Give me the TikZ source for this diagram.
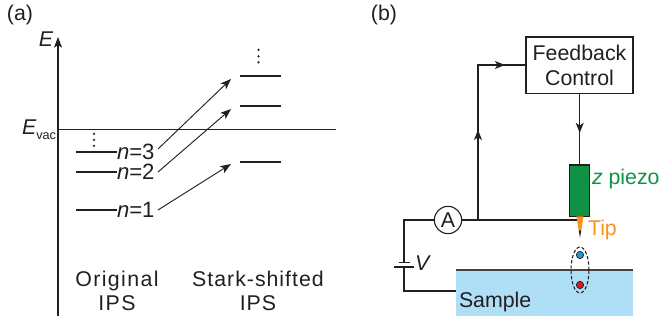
\documentclass[tikz,border=0pt]{standalone}
\usepackage{fontspec}
\setmainfont{Liberation Sans}
\newfontfamily\spacedfont[LetterSpace=6.5]{Liberation Sans}
\newfontfamily\spacedfontb[LetterSpace=4.6]{Liberation Sans}
\usetikzlibrary{arrows.meta,decorations.markings,shapes.geometric}
\definecolor{ink}{HTML}{231F20}
\definecolor{pz}{HTML}{0E9345}
\definecolor{tp}{HTML}{F7941D}
\definecolor{sm}{HTML}{AEDFF7}
\definecolor{bl}{HTML}{1C9AD6}
\definecolor{rd}{HTML}{D7182A}
\tikzset{
 x=0.75pt,y=-0.75pt,
 every node/.style={inner sep=0pt,outer sep=0pt,text=ink},
 txt/.style={font=\fontsize{16pt}{19pt}\selectfont},
 spc/.style={font=\fontsize{16pt}{18.2pt}\spacedfont},
 spcb/.style={font=\fontsize{16pt}{18.2pt}\spacedfontb},
 elevel/.style={draw=ink,line width=2.1pt},
 wire/.style={draw=ink,line width=0.85pt},
 shiftarrow/.style={draw=ink,line width=0.7pt,-{Stealth[length=8pt,width=6pt,inset=2pt]}},
 midhead/.style={postaction={decorate},decoration={markings,mark=at position #1 with {\arrow{Stealth[length=7.5pt,width=6pt,inset=2pt]}}}}
}
\begin{document}
\begin{tikzpicture}
\useasboundingbox (0,0) rectangle (661,320);
% panel (a)
\node[txt] (la) at (20,15) {(a)};
\coordinate (axb) at (58,316);
\coordinate (axt) at (58,37);
\draw[wire,-{Stealth[length=8pt,width=6pt,inset=2pt]}] (axb) -- (axt);
\node[txt,font=\fontsize{16pt}{19pt}\selectfont\itshape] (E) at (46,39) {E};
\coordinate (v1) at (58,130);
\coordinate (v2) at (336,130);
\draw[draw=ink,line width=0.75pt] (v1) -- (v2);
\node[anchor=base east] (Ev) at (56,135) {\fontsize{16pt}{19pt}\selectfont\itshape E\fontsize{9.5pt}{10pt}\selectfont\upshape\raisebox{-3.2pt}{vac}};
% original levels
\foreach \nm/\yy/\nn in {a/152/3,b/172/2,c/210/1}{
  \coordinate (l\nm1) at (76,\yy);
  \node[anchor=west,font=\fontsize{16.6pt}{19pt}\selectfont] (n\nm) at (117,\yy) {\textit{n}=\nn};
  \draw[elevel] (l\nm1) -- (n\nm.west);
}
\foreach \nm/\yy in {a/76,b/106,c/162}{
  \coordinate (r\nm1) at (240,\yy);
  \coordinate (r\nm2) at (280.5,\yy);
  \draw[elevel] (r\nm1) -- (r\nm2);
}
\foreach \xx/\yy in {94/134,94/140,94/146,258.5/50,258.5/56.5,258.5/62.5}{
  \fill[ink] (\xx,\yy) circle (1.25);
}
% shift arrows
\coordinate (sa1) at (158,149); \coordinate (sa2) at (231,79);
\coordinate (sb1) at (158,172); \coordinate (sb2) at (231,109);
\coordinate (sc1) at (158,210); \coordinate (sc2) at (231,164);
\draw[shiftarrow] (sa1) -- (sa2);
\draw[shiftarrow] (sb1) -- (sb2);
\draw[shiftarrow] (sc1) -- (sc2);
\node[spc,align=center] (ot) at (117,291) {Original\\IPS};
\node[spcb,align=center] (st) at (258,291) {Stark-shifted\\IPS};
% panel (b)
\node[txt] (lb) at (384,15) {(b)};
\node[draw=ink,line width=0.85pt,minimum width=80.2pt,minimum height=42.3pt,txt,align=center,fill=white] (fb) at (579.5,65.2) {Feedback\\Control};
\node[draw=ink,line width=0.8pt,fill=pz,minimum width=14.8pt,minimum height=38.5pt] (pzn) at (579.7,190.7) {};
\fill[tp] (576.5,216.5) -- (583.5,216.5) -- (581.2,231) -- (578.8,231) -- cycle;
\path[fill=ink] (578.8,230.5) -- (581.2,230.5) -- (580,238) -- cycle;
\coordinate (tipw) at (577,220);
\node[draw=ink,line width=0.85pt,circle,minimum size=20.5pt,txt,fill=white] (A) at (448,220) {A};
\coordinate (j) at (478,220);
\coordinate (c) at (478,65);
\draw[wire] (j) -- (c) -- (fb.west |- c);
\draw[wire,midhead=1] (j) -- (478,130);
\draw[wire,midhead=0.56] (c) -- (fb.west |- c);
\draw[wire,midhead=0.55] (fb.south -| pzn.north) -- (pzn.north);
\draw[wire] (A) -- (tipw);
% sample
\fill[sm] (456,270) rectangle (633,316);
\coordinate (s1) at (456,270);
\coordinate (s2) at (633,270);
\draw[draw=ink!85,line width=1pt] (s1) -- (s2);
\node[txt,anchor=base west] (smp) at (459,308) {Sample};
% battery circuit
\coordinate (cl) at (404,220);
\coordinate (bt) at (404,262.5);
\coordinate (bb) at (404,267);
\coordinate (cb) at (404,291);
\coordinate (se) at (456,291);
\draw[wire] (A) -- (cl) -- (bt);
\draw[wire] (bb) -- (cb) -- (se);
\draw[wire] (398.5,262.5) -- (409.5,262.5);
\draw[wire] (394,267) -- (414,267);
\node[txt,font=\fontsize{16pt}{19pt}\selectfont\itshape,anchor=west] (V) at (415,263) {V};
% exciton
\node[draw=ink,line width=0.8pt,ellipse,minimum width=13.5pt,minimum height=34.5pt,dash pattern=on 2.5pt off 1.5pt] (ell) at (580,270) {};
\node[circle,fill=bl,draw=ink,line width=0.5pt,minimum size=5.5pt] (eb) at (580,255) {};
\node[circle,fill=rd,draw=ink,line width=0.5pt,minimum size=5.5pt] (er) at (580,285) {};
% labels
\node[txt,anchor=base west,text=pz] (zl) at (592,185) {\textit{z} piezo};
\node[txt,anchor=base west,text=tp] (tl) at (588,236) {Tip};
\end{tikzpicture}
\end{document}
